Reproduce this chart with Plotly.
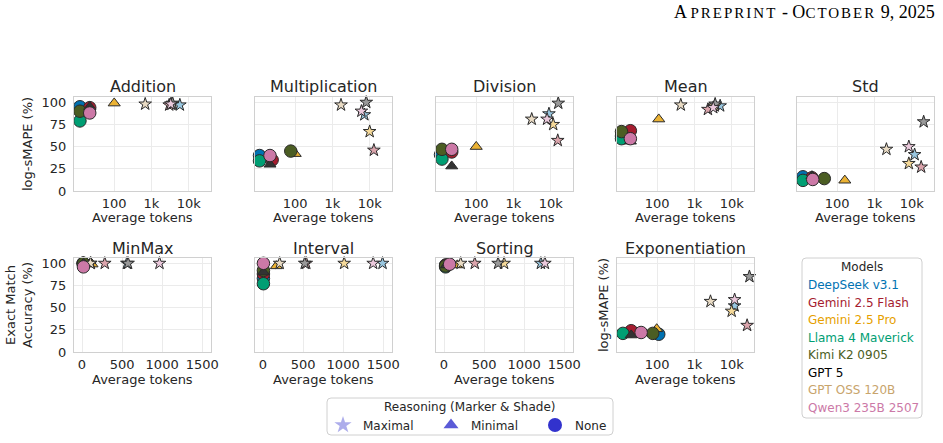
import plotly.graph_objects as go

W, H = 943, 443

# ---------------- data ----------------
models = ["DeepSeek v3.1", "Gemini 2.5 Flash", "Gemini 2.5 Pro", "Llama 4 Maverick",
          "Kimi K2 0905", "GPT 5", "GPT OSS 120B", "Qwen3 235B 2507"]
model_colors = ["#0072b2", "#a51c2f", "#e69f00", "#009e73",
                "#4b5d23", "#000000", "#c8a46c", "#cc79a7"]

levels = ["Maximal", "Minimal", "None"]
level_symbols = ["star", "triangle-up", "circle"]
level_tint = [0.6, 0.2, 0.0]
level_sizes = [9.5, 10.5, 12.5]

# one entry per plotted point (drawing order): model index, reasoning level index
point_model = [0, 0, 1, 1, 2, 2, 3, 4, 5, 5, 6, 7, 7]
point_level = [2, 0, 2, 0, 1, 0, 2, 2, 1, 0, 0, 2, 0]

addition_x = [12, 5800, 22, 3000, 100, 3500, 12, 12, 22, 3700, 680, 22, 3300]
addition_y = [95, 97, 94, 97, 99, 98, 79, 90, 95, 99, 98, 88, 98]

multiplication_x = [11, 7200, 24, 13000, 100, 10000, 11, 76, 21, 8100, 1700, 21, 6000]
multiplication_y = [40, 86, 35, 46, 42, 67, 34, 45, 30, 100, 97, 40, 90]

division_x = [11, 9000, 22, 15500, 100, 11700, 12, 12, 22, 16000, 3100, 22, 8000]
division_y = [41, 87, 44, 57, 50, 75, 36, 47, 28, 99, 81, 47, 81]

mean_x = [11, 4900, 19, 2300, 110, 3500, 11, 11, 19, 3600, 430, 19, 3200]
mean_y = [62, 96, 68, 92, 81, 96, 59, 67, 56, 98, 97, 59, 94]

std_x = [12, 12000, 21, 18000, 160, 8400, 12, 45, 21, 21000, 2100, 22, 8400]
std_y = [16, 41, 15, 27, 12, 31, 12, 14, 17, 78, 47, 13, 50]

minmax_x = [15, 560, 15, 284, 125, 110, 15, 18, 20, 575, 105, 18, 967]
minmax_y = [100, 100, 100, 100, 99, 100, 100, 100, 100, 100, 100, 96, 100]

interval_x = [5, 1492, 5, 540, 167, 1013, 5, 5, 5, 521, 208, 5, 1375]
interval_y = [83, 100, 88, 100, 97, 100, 77, 92, 90, 100, 100, 100, 100]

sorting_x = [20, 1209, 25, 384, 167, 750, 20, 20, 30, 675, 208, 70, 1259]
sorting_y = [98, 100, 98, 100, 98, 100, 96, 97, 98, 100, 100, 99, 100]

exponentiation_x = [110, 12000, 20, 26000, 97, 10000, 12, 76, 20, 30000, 2700, 37, 12000]
exponentiation_y = [20, 52, 24, 30, 26, 46, 21, 21, 19, 85, 57, 22, 59]

log_tick_vals = [100, 1000, 10000]
log_tick_text = ["100", "1k", "10k"]
lin_tick_vals = [0, 500, 1000, 1500]
y_tick_vals = [0, 25, 50, 75, 100]

# ---------------- layout geometry (pixels) ----------------
TEXT = "#262626"
FONT = "DejaVu Sans"
col_left = [74, 255, 436, 617, 797]
pw = 137
row_top = [97, 258]
ph = 94
xtitle_gap = [26, 27]

tasks = [
    # title, x, y, row, col, xtype, show y ticks, y title
    ("Addition", addition_x, addition_y, 0, 0, "log", True, "log-sMAPE (%)"),
    ("Multiplication", multiplication_x, multiplication_y, 0, 1, "log", False, None),
    ("Division", division_x, division_y, 0, 2, "log", False, None),
    ("Mean", mean_x, mean_y, 0, 3, "log", False, None),
    ("Std", std_x, std_y, 0, 4, "log", False, None),
    ("MinMax", minmax_x, minmax_y, 1, 0, "linear", True, "Exact Match<br>Accuracy (%)"),
    ("Interval", interval_x, interval_y, 1, 1, "linear", False, None),
    ("Sorting", sorting_x, sorting_y, 1, 2, "linear", False, None),
    ("Exponentiation", exponentiation_x, exponentiation_y, 1, 3, "log", False, "log-sMAPE (%)"),
]


def hex_to_rgb(h):
    h = h.lstrip("#")
    return [int(h[i:i + 2], 16) for i in (0, 2, 4)]


def tint(h, t):
    r, g, b = hex_to_rgb(h)
    return "rgb(%d,%d,%d)" % tuple(round(c + (255 - c) * t) for c in (r, g, b))


def px_x(p):
    return p / W


def px_y(p):
    return 1 - p / H


def rounded_box(x0, y0, x1, y1, rad=4):
    return ("M{a},{b} L{c},{b} Q{d},{b} {d},{e} L{d},{f} Q{d},{g} {c},{g} "
            "L{a},{g} Q{h},{g} {h},{f} L{h},{e} Q{h},{b} {a},{b} Z").format(
        a=px_x(x0 + rad), b=px_y(y0), c=px_x(x1 - rad), d=px_x(x1), e=px_y(y0 + rad),
        f=px_y(y1 - rad), g=px_y(y1), h=px_x(x0))


fig = go.Figure()
layout = dict(
    width=W, height=H, margin=dict(l=0, r=0, t=0, b=0, autoexpand=False),
    paper_bgcolor="white", plot_bgcolor="white",
    font=dict(family=FONT, color=TEXT, size=13),
    showlegend=True,
)
annotations = []
shapes = []

for i, (title, xs, ys, row, col, xtype, showy, ytitle) in enumerate(tasks):
    n = i + 1
    xa = "xaxis" if n == 1 else "xaxis%d" % n
    ya = "yaxis" if n == 1 else "yaxis%d" % n
    xr = "x" if n == 1 else "x%d" % n
    yr = "y" if n == 1 else "y%d" % n
    l = col_left[col]
    t = row_top[row]
    xd = [px_x(l), px_x(l + pw)]
    yd = [px_y(t + ph), px_y(t)]

    colors = [tint(model_colors[m], level_tint[lv]) for m, lv in zip(point_model, point_level)]
    symbols = [level_symbols[lv] for lv in point_level]
    sizes = [level_sizes[lv] for lv in point_level]
    fig.add_trace(go.Scatter(
        x=xs, y=ys, xaxis=xr, yaxis=yr, mode="markers", showlegend=False,
        marker=dict(color=colors, symbol=symbols, size=sizes, opacity=1,
                    line=dict(color="#2a2a2a", width=1)),
        hoverinfo="skip", cliponaxis=False,
    ))

    axis_common = dict(showline=True, mirror=True, linecolor="#d0d0d0", linewidth=1.3,
                       showgrid=True, gridcolor="#ebebeb", gridwidth=1, zeroline=False,
                       tickfont=dict(size=13, color=TEXT, family=FONT), fixedrange=True)
    if xtype == "log":
        xax = dict(type="log", range=[0.92, 4.6], tickvals=log_tick_vals, ticktext=log_tick_text)
    else:
        xax = dict(type="linear", range=[-100, 1610], tickvals=lin_tick_vals)
    xax.update(axis_common)
    xax.update(domain=xd, anchor=yr, ticks="")
    yax = dict(range=[0, 106], tickvals=y_tick_vals, showticklabels=showy)
    yax.update(axis_common)
    yax.update(domain=yd, anchor=xr, ticks="outside", ticklen=4, tickcolor="rgba(0,0,0,0)")
    layout[xa] = xax
    layout[ya] = yax

    cx = l + pw / 2
    annotations.append(dict(text=title, x=px_x(cx), y=px_y(t - 10), xref="paper", yref="paper",
                            xanchor="center", yanchor="middle", showarrow=False,
                            font=dict(size=16, color=TEXT, family=FONT)))
    annotations.append(dict(text="Average tokens", x=px_x(cx), y=px_y(t + ph + xtitle_gap[row]),
                            xref="paper", yref="paper", xanchor="center", yanchor="middle",
                            showarrow=False, font=dict(size=13, color=TEXT, family=FONT)))
    if ytitle:
        yx = l - 47 if showy else l - 14
        if "<br>" in ytitle:
            yx = l - 55
        annotations.append(dict(text=ytitle, x=px_x(yx), y=px_y(t + ph / 2), xref="paper",
                                yref="paper", xanchor="center", yanchor="middle",
                                textangle=-90, showarrow=False,
                                font=dict(size=13, color=TEXT, family=FONT)))

# ---------------- reasoning legend: box + title + one native legend per entry ----------------
shapes.append(dict(type="path", path=rounded_box(327, 398, 613, 435), xref="paper", yref="paper",
                   line=dict(color="#d0d0d0", width=1), fillcolor="white", layer="below"))
annotations.append(dict(text="Reasoning (Marker & Shade)", x=px_x(470), y=px_y(407),
                        xref="paper", yref="paper", xanchor="center", yanchor="middle",
                        showarrow=False, font=dict(size=12, color=TEXT, family=FONT)))
legend_sym_x = [343, 451, 555]
legend_names = ["legend", "legend2", "legend3"]
for lv, name in enumerate(levels):
    fig.add_trace(go.Scatter(
        x=[None], y=[None], mode="markers", name=name, showlegend=True,
        legend=legend_names[lv],
        marker=dict(color=tint("#3232cd", level_tint[lv]), symbol=level_symbols[lv],
                    size=[13, 13, 14][lv], line=dict(width=0)),
    ))
    layout[legend_names[lv]] = dict(
        x=px_x(legend_sym_x[lv] - 20), xanchor="left", y=px_y(425), yanchor="middle",
        bgcolor="rgba(0,0,0,0)", borderwidth=0,
        font=dict(size=12, color=TEXT, family=FONT),
        itemclick=False, itemdoubleclick=False,
    )

# ---------------- models legend (text-only colored entries) ----------------
shapes.append(dict(type="path", path=rounded_box(802, 258, 922, 418), xref="paper", yref="paper",
                   line=dict(color="#d0d0d0", width=1), fillcolor="white"))
annotations.append(dict(text="Models", x=px_x(862), y=px_y(267), xref="paper", yref="paper",
                        xanchor="center", yanchor="middle", showarrow=False,
                        font=dict(size=12, color=TEXT, family=FONT)))
for k, (m, c) in enumerate(zip(models, model_colors)):
    annotations.append(dict(text=m, x=px_x(806), y=px_y(285 + 17.5 * k), xref="paper",
                            yref="paper", xanchor="left", yanchor="middle", showarrow=False,
                            font=dict(size=12, color=c, family=FONT)))

# ---------------- header ----------------
sc = '<span style="font-size:15px;letter-spacing:2px">%s</span>'
annotations.append(dict(
    text='A ' + sc % 'PREPRINT' + ' - O' + sc % 'CTOBER' + ' 9, 2025',
    x=px_x(937), y=px_y(12), xref="paper", yref="paper", xanchor="right", yanchor="middle",
    showarrow=False, font=dict(size=18, color="black", family="Liberation Serif")))

layout["annotations"] = annotations
layout["shapes"] = shapes
fig.update_layout(**layout)
fig.write_html("out.html")
